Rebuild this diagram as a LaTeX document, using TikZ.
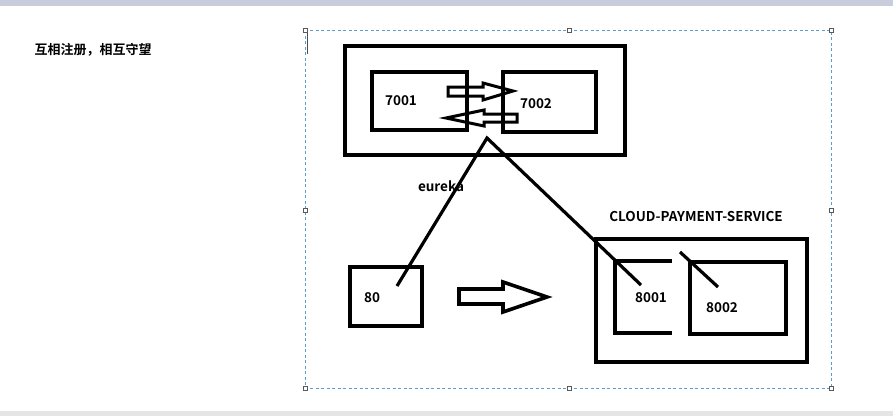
\documentclass[tikz,border=0pt]{standalone}
\usepackage{fontspec}
\setmainfont{Noto Sans CJK SC}[BoldFont={* Bold}]
\usepackage{tikz}
\usetikzlibrary{calc,positioning}
\definecolor{selblue}{RGB}{95,155,205}
\definecolor{barblue}{RGB}{200,204,220}

\begin{document}
\begin{tikzpicture}[x=1pt,y=-1pt,
    box/.style={draw,line width=3.6pt,rectangle,inner sep=0pt},
    lbl/.style={font=\bfseries\fontsize{13.5}{15}\selectfont,inner sep=0pt},
    handle/.style={draw=gray!70!black,fill=white,line width=0.6pt,minimum size=4pt,inner sep=0pt}]
    \useasboundingbox (0,0) rectangle (893,416);
    % window bars
    \fill[barblue] (0,0) rectangle (893,6);
    \fill[gray!20] (0,411) rectangle (893,416);
    \node[lbl,font=\bfseries\fontsize{13}{15}\selectfont] (title) at (93,50) {互相注册，相互守望};
    % selection frame
    \draw[selblue,line width=0.8pt,dash pattern=on 3pt off 2.5pt] (305,30) rectangle (831,388);
    \foreach \x/\y in {305/30,569/30,831/30,305/210,831/210,305/388,569/388,831/388}
      \node[handle] at (\x,\y) {};
    \draw[gray!60!black,line width=1pt] (307,33) -- (307,54);
    % eureka cluster
    \node[box,minimum width=280pt,minimum height=109pt] (cluster) at (485,100.5) {};
    \node[box,minimum width=95pt,minimum height=58pt] (e7001) at (419.5,101) {};
    \node[box,minimum width=93pt,minimum height=60pt] (e7002) at (549.5,102) {};
    \node[lbl] (t7001) at (401,101) {7001};
    \node[lbl] (t7002) at (536,104) {7002};
    \draw[line width=3pt,line join=miter] (448,87) -- (483,87) -- (483,83) -- (513,91) -- (483,100) -- (483,96) -- (448,96) -- cycle;
    \draw[line width=3pt,line join=miter] (517,114) -- (484,114) -- (484,110) -- (446,118) -- (484,126) -- (484,122) -- (517,122) -- cycle;
    \node[lbl] (teureka) at (441,186) {eureka};
    % consumer and providers
    \node[box,minimum width=72pt,minimum height=59pt] (c80) at (386,296.5) {};
    \node[lbl] (t80) at (372,298) {80};
    \draw[line width=3.6pt,line join=miter] (459,289) -- (503,289) -- (503,282) -- (547,297) -- (503,312) -- (503,304) -- (459,304) -- cycle;
    \node[lbl] (tservice) at (696,216) {CLOUD-PAYMENT-SERVICE};
    \node[box,minimum width=211pt,minimum height=123pt] (service) at (701.5,300.5) {};
    \draw[line width=3.6pt] (672,261) -| (615,333) -- (672,333);
    \node[box,minimum width=96pt,minimum height=72pt] (p8002) at (738,298) {};
    \node[lbl] (t8001) at (651,298) {8001};
    \node[lbl] (t8002) at (722,308) {8002};
    % registration lines
    \coordinate (apex) at (487,138);
    \coordinate (end80) at (397,286);
    \coordinate (end8001) at (641,285);
    \draw[line width=3.2pt] (end80) -- (apex) -- (end8001);
    \draw[line width=3.2pt] (680,252) -- (718,287);
\end{tikzpicture}
\end{document}
